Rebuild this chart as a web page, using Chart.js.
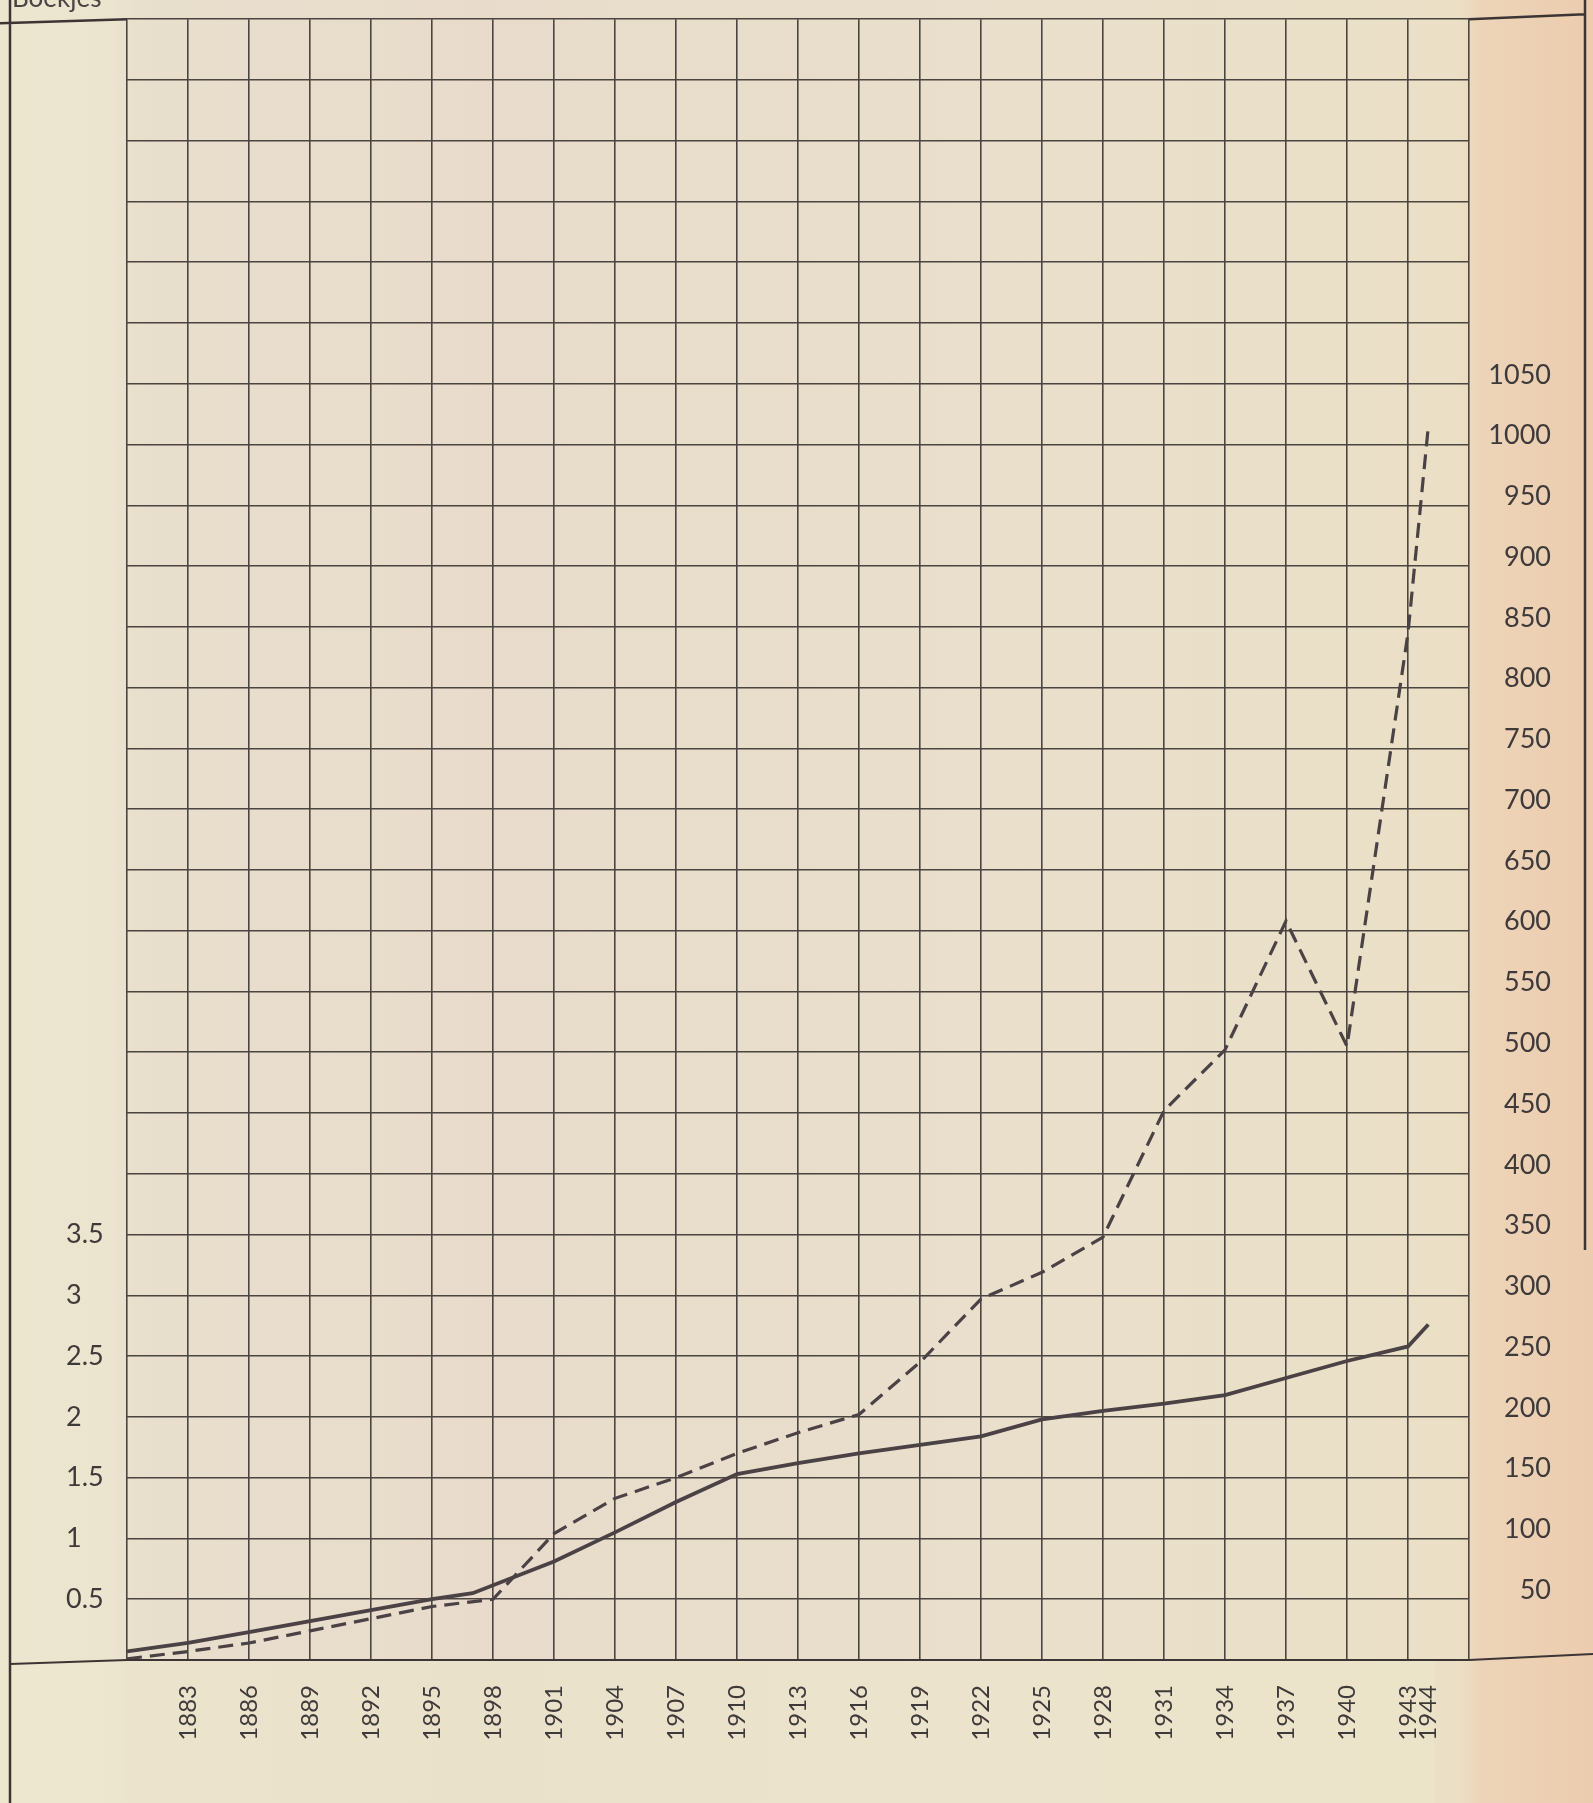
<!DOCTYPE html>
<html>
<head>
<meta charset="utf-8">
<title>Boekjes</title>
<script src="https://cdn.jsdelivr.net/npm/chart.js@4.4.0/dist/chart.umd.js"></script>
<style>
  html, body { margin: 0; padding: 0; background: #e9dfcc; }
  #wrap { width: 1593px; height: 1803px; }
</style>
</head>
<body>
<div id="wrap"><canvas id="chart" width="1593" height="1803"></canvas></div>
<script>
// values (right-hand scale units)
const solidYears  = [1880, 1883, 1886, 1889, 1892, 1895, 1897, 1901, 1904, 1907, 1910, 1913, 1916, 1919, 1922, 1925, 1928, 1931, 1934, 1937, 1940, 1943, 1944];
const solidValues = [7, 14, 23, 32, 41, 50, 55, 81, 105, 130, 153, 162, 170, 177, 184, 198, 205, 211, 218, 232, 246, 258, 276];

const dashedYears  = [1880, 1883, 1886, 1889, 1892, 1895, 1898, 1901, 1904, 1907, 1910, 1913, 1916, 1919, 1922, 1925, 1928, 1931, 1934, 1937, 1940, 1943, 1944];
const dashedValues = [1, 7, 14, 24, 34, 44, 50, 104, 133, 150, 170, 187, 202, 245, 297, 319, 348, 452, 502, 608, 505, 845, 1015];

// tick labels
const yearLabels  = [1883, 1886, 1889, 1892, 1895, 1898, 1901, 1904, 1907, 1910, 1913, 1916, 1919, 1922, 1925, 1928, 1931, 1934, 1937, 1940, 1943, 1944];
const leftLabels  = [0.5, 1, 1.5, 2, 2.5, 3, 3.5];
const rightLabels = [50, 100, 150, 200, 250, 300, 350, 400, 450, 500, 550, 600, 650, 700, 750, 800, 850, 900, 950, 1000, 1050];
const unitLabel = 'Boekjes';

const INK = '#3f3a3a';
const GRID = '#4b4541';
const FONT = 'Lato, "Open Sans", sans-serif';

const toPoints = (xs, ys) => xs.map((x, i) => ({ x: x, y: ys[i] }));

// paper, frame lines and the cut-off caption
const paperPlugin = {
    id: 'paper',
    beforeDraw(chart) {
        const ctx = chart.ctx;
        const w = chart.width, h = chart.height;
        const g = ctx.createLinearGradient(0, 0, w, 0);
        g.addColorStop(0, '#ece6cf');
        g.addColorStop(0.07, '#ebe4cf');
        g.addColorStop(0.085, '#e9dfcd');
        g.addColorStop(0.3, '#e8dbcb');
        g.addColorStop(0.6, '#e9dfcc');
        g.addColorStop(0.8, '#eae0c9');
        g.addColorStop(0.915, '#ebe0c6');
        g.addColorStop(0.93, '#edd4b8');
        g.addColorStop(1, '#ecccae');
        ctx.save();
        ctx.fillStyle = g;
        ctx.fillRect(0, 0, w, h);
        const y0 = chart.scales.yRight.getPixelForValue(0);
        ctx.fillStyle = 'rgba(238, 232, 205, 0.45)';
        ctx.fillRect(0, y0, w * 0.9, h - y0);
        ctx.restore();
    },
    afterDraw(chart) {
        const ctx = chart.ctx;
        const w = chart.width, h = chart.height;
        const area = chart.chartArea;
        const yTop = chart.scales.yRight.getPixelForValue(1350);
        const yBottom = chart.scales.yRight.getPixelForValue(0);
        ctx.save();
        ctx.strokeStyle = '#3d3535';
        ctx.lineWidth = 2.5;
        ctx.beginPath();
        ctx.moveTo(10, 0); ctx.lineTo(10, h);
        ctx.moveTo(0, yTop + 4); ctx.lineTo(area.left, yTop);
        ctx.moveTo(area.right, yTop); ctx.lineTo(1585, yTop - 5);
        ctx.moveTo(1585, 0); ctx.lineTo(1585, 1250);
        ctx.stroke();
        ctx.lineWidth = 2.2;
        ctx.beginPath();
        ctx.moveTo(10, yBottom + 4); ctx.lineTo(area.left, yBottom);
        ctx.lineTo(area.right, yBottom); ctx.lineTo(w, yBottom - 6);
        ctx.stroke();
        ctx.fillStyle = '#4a4444';
        ctx.font = '26px ' + FONT;
        ctx.textBaseline = 'alphabetic';
        ctx.fillText(unitLabel, 12, 7);
        ctx.restore();
    }
};

new Chart(document.getElementById('chart'), {
    type: 'line',
    data: {
        datasets: [
            {
                label: 'solid',
                data: toPoints(solidYears, solidValues),
                yAxisID: 'yRight',
                borderColor: '#4a4244',
                borderWidth: 3.8,
                pointRadius: 0,
                tension: 0,
                fill: false
            },
            {
                label: 'dashed',
                data: toPoints(dashedYears, dashedValues),
                yAxisID: 'yRight',
                borderColor: '#4a4244',
                borderWidth: 3.2,
                borderDash: [15, 8],
                pointRadius: 0,
                tension: 0,
                fill: false
            }
        ]
    },
    options: {
        responsive: false,
        animation: false,
        devicePixelRatio: 1,
        layout: { padding: { left: 66, right: 42, top: 11, bottom: 0 } },
        plugins: {
            legend: { display: false },
            tooltip: { enabled: false }
        },
        scales: {
            x: {
                type: 'linear',
                min: 1880,
                max: 1946,
                afterBuildTicks: (scale) => {
                    scale.ticks.push({ value: 1944 });
                    scale.ticks.sort((a, b) => a.value - b.value);
                },
                afterFit: (scale) => { scale.height = 143; },
                ticks: {
                    stepSize: 3,
                    autoSkip: false,
                    minRotation: 90,
                    maxRotation: 90,
                    padding: 25,
                    color: INK,
                    font: { family: FONT, size: 24 },
                    callback: (v) => yearLabels.includes(v) ? String(v) : ''
                },
                grid: {
                    color: (c) => (c.tick && c.tick.value === 1944) ? 'rgba(0,0,0,0)' : GRID,
                    lineWidth: 1.6,
                    drawTicks: false
                },
                border: { display: false }
            },
            y: {
                position: 'left',
                min: 0,
                max: 13.5,
                afterFit: (scale) => { scale.width = 61; },
                ticks: {
                    stepSize: 0.5,
                    crossAlign: 'far',
                    color: INK,
                    font: { family: FONT, size: 27 },
                    callback: (v) => leftLabels.includes(v) ? String(v) : ''
                },
                grid: { display: false, drawTicks: false },
                border: { display: false }
            },
            yRight: {
                position: 'right',
                min: 0,
                max: 1350,
                afterFit: (scale) => { scale.width = 82; },
                ticks: {
                    stepSize: 50,
                    crossAlign: 'far',
                    labelOffset: -9,
                    color: INK,
                    font: { family: FONT, size: 27 },
                    callback: (v) => rightLabels.includes(v) ? String(v) : ''
                },
                grid: { color: GRID, lineWidth: 1.6, drawTicks: false },
                border: { display: false }
            }
        }
    },
    plugins: [paperPlugin]
});
</script>
</body>
</html>
